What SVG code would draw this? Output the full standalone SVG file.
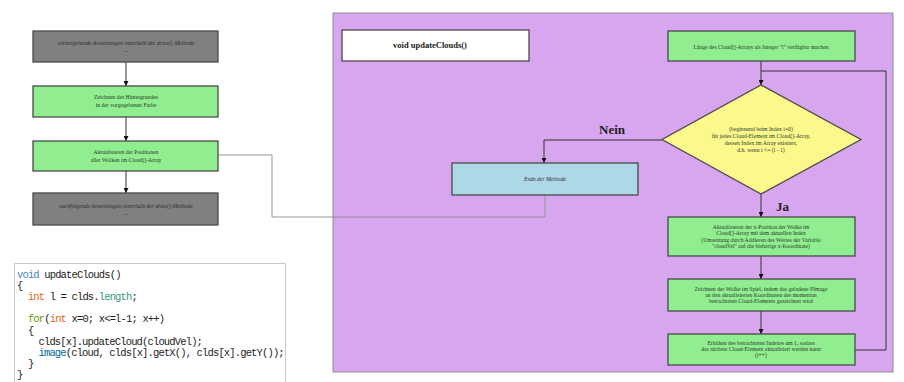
<svg xmlns="http://www.w3.org/2000/svg" width="904" height="382" viewBox="0 0 904 382">
  <defs>
    <marker id="arrow" viewBox="0 0 10 10" refX="10" refY="5" markerWidth="5" markerHeight="5" orient="auto">
      <path d="M0,0 L10,5 L0,10 z" fill="#111"/>
    </marker>
    <style>
      .box { stroke: #4a4a4a; stroke-width: 1.3; }
      .gray { fill: #808080; }
      .green { fill: #90ee90; }
      .blue { fill: #add8e6; }
      .white { fill: #ffffff; }
      .yellow { fill: #fbf98c; }
      .t { font-family: "Liberation Serif", serif; font-size: 5.7px; fill: #2b3a2b; text-anchor: middle; }
      .ti { font-style: italic; fill: #2e2e2e; }
      .lbl { font-family: "Liberation Serif", serif; font-weight: bold; font-size: 13px; fill: #222; }
      .edge { fill: none; stroke: #333; stroke-width: 1; }
      .thin { fill: none; stroke: #8a8a8a; stroke-width: 0.9; }
      .code { font-family: "Liberation Mono", monospace; font-size: 10.5px; letter-spacing: -0.85px; fill: #222; }
      .kw-void { fill: #4a86c8; }
      .kw-type { fill: #e2661a; }
      .kw-ctrl { fill: #669900; }
      .fn { fill: #006699; }
      .prop { fill: #33997e; }
    </style>
  </defs>

  <rect width="904" height="382" fill="#ffffff"/>

  <!-- method area -->
  <rect id="method-area" x="333" y="13" width="560" height="359" fill="#d7a6ef" stroke="#8e8e8e" stroke-width="1"/>

  <!-- connectors -->
  <g id="connectors">
    <line class="edge" x1="126" y1="62" x2="126" y2="86" marker-end="url(#arrow)"/>
    <line class="edge" x1="126" y1="117" x2="126" y2="141" marker-end="url(#arrow)"/>
    <line class="edge" x1="126" y1="171" x2="126" y2="193" marker-end="url(#arrow)"/>
    <polyline class="thin" points="218,155 272,155 272,217 545,217 545,195"/>
    <line class="edge" x1="761" y1="61" x2="761" y2="85" marker-end="url(#arrow)"/>
    <polyline class="edge" points="855,350 886,350 886,71 761,71"/>
    <polyline class="edge" points="662,140 544,140 544,163" marker-end="url(#arrow)"/>
    <line class="edge" x1="761" y1="194" x2="761" y2="217" marker-end="url(#arrow)"/>
    <line class="edge" x1="761" y1="256" x2="761" y2="279" marker-end="url(#arrow)"/>
    <line class="edge" x1="761" y1="311" x2="761" y2="334" marker-end="url(#arrow)"/>
    <text class="lbl" x="599" y="134">Nein</text>
    <text class="lbl" x="776" y="211">Ja</text>
  </g>

  <!-- draw() sequence -->
  <g id="prev-statements">
    <rect class="box gray" x="33" y="31" width="185" height="31"/>
    <text class="t ti" x="126" y="45">vorhergehende Anweisungen innerhalb der draw()-Methode</text>
    <text class="t ti" x="126" y="52">...</text>
  </g>
  <g id="draw-background">
    <rect class="box green" x="33" y="86" width="185" height="31"/>
    <text class="t" x="126" y="99">Zeichnen des Hintergrundes</text>
    <text class="t" x="126" y="107">in der vorgegebenen Farbe</text>
  </g>
  <g id="update-positions">
    <rect class="box green" x="33" y="141" width="185" height="30"/>
    <text class="t" x="126" y="154">Aktualisieren der Positionen</text>
    <text class="t" x="126" y="162">aller Wolken im Cloud[]-Array</text>
  </g>
  <g id="next-statements">
    <rect class="box gray" x="33" y="193" width="185" height="32"/>
    <text class="t ti" x="126" y="208">nachfolgende Anweisungen innerhalb der draw()-Methode</text>
    <text class="t ti" x="126" y="215">...</text>
  </g>

  <!-- source listing -->
  <g id="code-listing">
    <rect x="14.5" y="263.5" width="271" height="130" fill="#ffffff" stroke="#c8c8c8" stroke-width="1"/>
    <text class="code" x="17" y="277.5"><tspan class="kw-void">void</tspan> updateClouds()</text>
    <text class="code" x="17" y="288.7">{</text>
    <text class="code" x="27.9" y="299.9"><tspan class="kw-type">int</tspan> l = clds.<tspan class="prop">length</tspan>;</text>
    <text class="code" x="27.9" y="322.3"><tspan class="kw-ctrl">for</tspan>(<tspan class="kw-type">int</tspan> x=0; x&lt;=l-1; x++)</text>
    <text class="code" x="27.9" y="333.5">{</text>
    <text class="code" x="38.5" y="344.7">clds[x].updateCloud(cloudVel);</text>
    <text class="code" x="38.5" y="355.9"><tspan class="fn">image</tspan>(cloud, clds[x].getX(), clds[x].getY());</text>
    <text class="code" x="27.9" y="367.1">}</text>
    <text class="code" x="17" y="378.3">}</text>
  </g>

  <!-- updateClouds() flow -->
  <g id="method-title">
    <rect class="box white" x="342" y="30" width="187" height="31"/>
    <text x="430" y="48" font-family="Liberation Serif, serif" font-weight="bold" font-size="8.5" fill="#222" text-anchor="middle">void updateClouds()</text>
  </g>
  <g id="array-length">
    <rect class="box green" x="668" y="31" width="187" height="30"/>
    <text class="t" x="761" y="49">Länge des Cloud[]-Arrays als Integer "l" verfügbar machen</text>
  </g>
  <g id="loop-condition">
    <polygon class="box yellow" points="761,85 861,139.5 761,194 662,139.5"/>
    <text class="t" x="761" y="131">(beginnend beim Index i=0)</text>
    <text class="t" x="761" y="138">für jedes Cloud-Element im Cloud[]-Array,</text>
    <text class="t" x="761" y="145">dessen Index im Array existiert,</text>
    <text class="t" x="761" y="151.5">d.h. wenn i &lt;= (l - 1)</text>
  </g>
  <g id="method-end">
    <rect class="box blue" x="452" y="163" width="186" height="32"/>
    <text class="t ti" x="545" y="181">Ende der Methode</text>
  </g>
  <g id="update-x">
    <rect class="box green" x="668" y="217" width="187" height="39"/>
    <text class="t" x="761" y="229">Aktualisieren der x-Position der Wolke im</text>
    <text class="t" x="761" y="235.3">Cloud[]-Array mit dem aktuellen Index</text>
    <text class="t" x="761" y="241.6">(Umsetzung durch Addieren des Wertes der Variable</text>
    <text class="t" x="761" y="248">"cloudVel" auf die bisherige x-Koordinate)</text>
  </g>
  <g id="draw-cloud">
    <rect class="box green" x="668" y="279" width="187" height="32"/>
    <text class="t" x="761" y="291">Zeichnen der Wolke im Spiel, indem das geladene PImage</text>
    <text class="t" x="761" y="297">an den aktualisierten Koordinaten des momentan</text>
    <text class="t" x="761" y="303">betrachteten Cloud-Elements gezeichnet wird</text>
  </g>
  <g id="next-index">
    <rect class="box green" x="668" y="334" width="187" height="31"/>
    <text class="t" x="761" y="345">Erhöhen des betrachteten Indexes um 1, sodass</text>
    <text class="t" x="761" y="351">das nächste Cloud-Element aktualisiert werden kann</text>
    <text class="t" x="761" y="357">(i++)</text>
  </g>
</svg>
